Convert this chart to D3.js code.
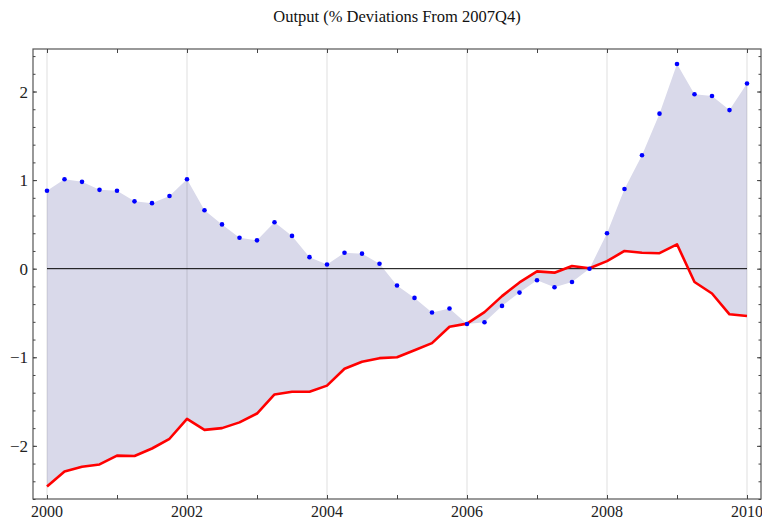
<!DOCTYPE html>
<html><head><meta charset="utf-8">
<script src="https://cdn.jsdelivr.net/npm/d3@7"></script>
<style>body{margin:0;background:#fff}svg{display:block}</style>
</head><body>
<svg id="c" width="762" height="522"></svg>
<script>
const title = "Output (% Deviations From 2007Q4)";
const startYear = 2000;
// quarterly values 2000Q1 .. 2010Q1
const dots = [0.88,1.01,0.98,0.89,0.88,0.76,0.74,0.82,1.01,0.66,0.50,0.35,0.32,0.525,0.37,0.13,0.047,0.18,0.17,0.055,-0.19,-0.33,-0.495,-0.45,-0.625,-0.605,-0.42,-0.27,-0.13,-0.21,-0.15,0.0,0.40,0.90,1.28,1.75,2.31,1.97,1.95,1.79,2.09];
const line = [-2.46,-2.29,-2.235,-2.21,-2.11,-2.115,-2.03,-1.92,-1.695,-1.82,-1.80,-1.735,-1.635,-1.42,-1.39,-1.39,-1.32,-1.13,-1.05,-1.01,-1.00,-0.92,-0.84,-0.655,-0.62,-0.49,-0.31,-0.155,-0.03,-0.045,0.03,0.005,0.085,0.20,0.18,0.175,0.275,-0.15,-0.28,-0.515,-0.535];
const xLabels = [2000,2002,2004,2006,2008,2010];
const yLabels = [-2,-1,0,1,2];

const svg = d3.select("#c");
const L=33,R=761,T=49,B=499;
const x = d3.scaleLinear().domain([1999.8,2010.2]).range([L,R]);
const y = d3.scaleLinear().domain([-2.6,2.48]).range([B,T]);
const data = dots.map((d,i)=>({t:startYear+i*0.25,a:d,b:line[i]}));

svg.append("path").datum(data)
  .attr("d", d3.area().x(d=>x(d.t)).y0(d=>y(d.b)).y1(d=>y(d.a)))
  .attr("fill","rgb(217,217,234)");

// gridlines
svg.append("g").selectAll("line").data(xLabels).join("line")
  .attr("x1",d=>x(d)).attr("x2",d=>x(d)).attr("y1",T).attr("y2",B)
  .attr("stroke","rgba(0,0,0,0.13)").attr("stroke-width",1);

// zero line
svg.append("line").attr("x1",x(2000)).attr("x2",x(2010)).attr("y1",y(0)).attr("y2",y(0))
  .attr("stroke","#000").attr("stroke-width",1);

svg.append("path").datum(data)
  .attr("d", d3.line().x(d=>x(d.t)).y(d=>y(d.b)))
  .attr("fill","none").attr("stroke","#ff0000").attr("stroke-width",2.6).attr("stroke-linejoin","round");

svg.append("g").selectAll("circle").data(data).join("circle")
  .attr("cx",d=>x(d.t)).attr("cy",d=>y(d.a)).attr("r",2.3).attr("fill","#0000ff");

// frame
const font = "'Liberation Serif','Times New Roman',serif";
svg.append("rect").attr("x",L).attr("y",T).attr("width",R-L).attr("height",B-T)
  .attr("fill","none").attr("stroke","#555").attr("stroke-width",1.2);

const xt = d3.range(2000,2011,1);
const yMinor = d3.range(-26,25,2).map(v=>v/10);
const ax = (sel, axis) => sel.call(axis).call(g=>g.select(".domain").remove());
const tickStyle = g => g.selectAll(".tick line").attr("stroke","#444");

ax(svg.append("g").attr("transform",`translate(0,${B})`),
  d3.axisTop(x).tickValues(xt).tickSize(4).tickFormat("")).call(tickStyle);
ax(svg.append("g").attr("transform",`translate(0,${T})`),
  d3.axisBottom(x).tickValues(xt).tickSize(4).tickFormat("")).call(tickStyle);
ax(svg.append("g").attr("transform",`translate(${L},0)`),
  d3.axisRight(y).tickValues(yMinor).tickSize(2.5).tickFormat("")).call(tickStyle);
ax(svg.append("g").attr("transform",`translate(${R},0)`),
  d3.axisLeft(y).tickValues(yMinor).tickSize(2.5).tickFormat("")).call(tickStyle);
ax(svg.append("g").attr("transform",`translate(${L},0)`),
  d3.axisRight(y).tickValues(yLabels).tickSize(4).tickFormat("")).call(tickStyle);
ax(svg.append("g").attr("transform",`translate(${R},0)`),
  d3.axisLeft(y).tickValues(yLabels).tickSize(4).tickFormat("")).call(tickStyle);

// labels
svg.append("g").selectAll("text").data(xLabels).join("text")
  .attr("x",d=>x(d)).attr("y",B+18).attr("text-anchor","middle")
  .attr("font-family",font).attr("font-size",16).attr("fill","#222").text(d=>d);
svg.append("g").selectAll("text").data(yLabels).join("text")
  .attr("x",L-5).attr("y",d=>y(d)+6).attr("text-anchor","end")
  .attr("font-family",font).attr("font-size",17).attr("fill","#222")
  .text(d=>d<0?"\u2212"+Math.abs(d):d);

svg.append("text").attr("x",(L+R)/2).attr("y",22).attr("text-anchor","middle")
  .attr("font-family",font).attr("font-size",16.5).attr("fill","#111").text(title);
</script>
</body></html>
